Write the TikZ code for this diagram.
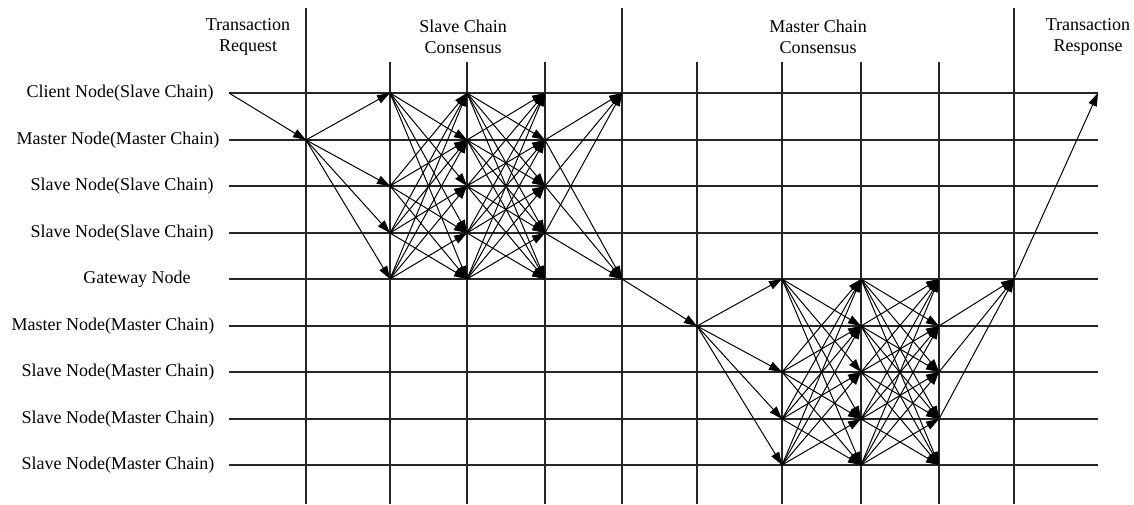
\documentclass[tikz,border=0pt]{standalone}
\usepackage{fontspec}
\setmainfont{Liberation Serif}
\usetikzlibrary{arrows.meta}
\tikzset{
  grid line/.style={line width=0.7pt, black!85},
  msg/.style={line width=0.5pt, -{Triangle[length=6.5pt,width=4.4pt]}},
  row label/.style={font=\fontsize{9}{10.5}\selectfont},
  head label/.style={align=center, font=\fontsize{9}{10.5}\selectfont},
}
\begin{document}
\begin{tikzpicture}[x=0.5pt,y=-0.5pt]
\useasboundingbox (0,0) rectangle (1134,504);
% grid points: column c, row r
\foreach \r/\y in {1/93,2/140,3/186,4/233,5/279,6/326,7/372,8/419,9/465}
  \foreach \c/\x in {0/229,1/306,2/390,3/467,4/545,5/622,6/697,7/782,8/861,9/939,10/1014,11/1098}
    \coordinate (p\c-\r) at (\x,\y);
% column ends
\foreach \c/\x/\t in {1/306/8,2/390/62,3/467/62,4/545/62,5/622/8,6/697/62,7/782/62,8/861/62,9/939/62,10/1014/8}{
  \coordinate (top\c) at (\x,\t);
  \coordinate (bot\c) at (\x,504);
}
% headers
\node[head label] (request) at (248,37) {Transaction\\Request};
\node[head label] (slavecons) at (463,37) {Slave Chain\\Consensus};
\node[head label] (mastercons) at (818,37) {Master Chain\\Consensus};
\node[head label] (response) at (1088,37) {Transaction\\Response};
% row labels
\foreach \r/\x/\txt in {1/120/Client Node(Slave Chain),2/118/Master Node(Master Chain),
  3/122/Slave Node(Slave Chain),4/122/Slave Node(Slave Chain),5/137/Gateway Node,
  6/113/Master Node(Master Chain),7/118/Slave Node(Master Chain),
  8/118/Slave Node(Master Chain),9/118/Slave Node(Master Chain)}
  \node[row label] (lab\r) at (p0-\r -| \x,0) {\txt};
% grid
\foreach \r in {1,...,9}
  \draw[grid line] (p0-\r) -- (p11-\r);
\foreach \c in {1,...,10}
  \draw[grid line] (top\c) -- (bot\c);
% request
\draw[msg] (p0-1) -- (p1-2);
% slave chain consensus
\foreach \j in {1,3,4,5}
  \draw[msg] (p1-2) -- (p2-\j);
\foreach \i in {1,3,4,5}
  \foreach \j in {1,...,5}{
    \ifnum\i=\j\else\draw[msg] (p2-\i) -- (p3-\j);\fi
  }
\foreach \i in {1,...,5}
  \foreach \j in {1,...,5}{
    \ifnum\i=\j\else\draw[msg] (p3-\i) -- (p4-\j);\fi
  }
\foreach \i in {2,3,4}
  \foreach \j in {1,5}
    \draw[msg] (p4-\i) -- (p5-\j);
% master chain consensus
\draw[msg] (p5-5) -- (p6-6);
\foreach \j in {5,7,8,9}
  \draw[msg] (p6-6) -- (p7-\j);
\foreach \i in {5,7,8,9}
  \foreach \j in {5,...,9}{
    \ifnum\i=\j\else\draw[msg] (p7-\i) -- (p8-\j);\fi
  }
\foreach \i in {5,...,9}
  \foreach \j in {5,...,9}{
    \ifnum\i=\j\else\draw[msg] (p8-\i) -- (p9-\j);\fi
  }
\foreach \i in {6,7,8}
  \draw[msg] (p9-\i) -- (p10-5);
% response
\draw[msg] (p10-5) -- (p11-1);
\end{tikzpicture}
\end{document}
